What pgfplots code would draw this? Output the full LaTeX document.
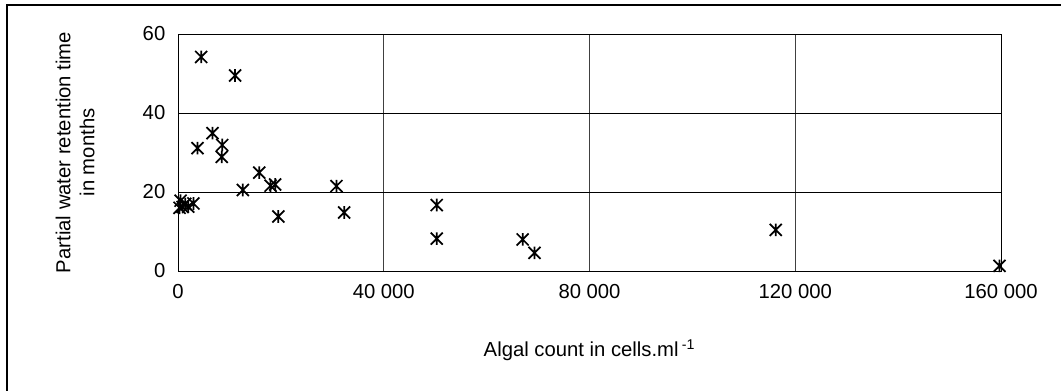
\documentclass[border=0pt]{standalone}
\usepackage{fontspec}
\setmainfont{Liberation Sans}
\usepackage{pgfplots}
\pgfplotsset{compat=1.18}
\pgfdeclareplotmark{xstar}{%
  \pgfpathmoveto{\pgfqpoint{-\pgfplotmarksize}{-\pgfplotmarksize}}%
  \pgfpathlineto{\pgfqpoint{\pgfplotmarksize}{\pgfplotmarksize}}%
  \pgfpathmoveto{\pgfqpoint{-\pgfplotmarksize}{\pgfplotmarksize}}%
  \pgfpathlineto{\pgfqpoint{\pgfplotmarksize}{-\pgfplotmarksize}}%
  \pgfpathmoveto{\pgfqpoint{0pt}{-1.05\pgfplotmarksize}}%
  \pgfpathlineto{\pgfqpoint{0pt}{1.05\pgfplotmarksize}}%
  \pgfusepathqstroke}
\begin{document}
\begin{tikzpicture}
\path[use as bounding box] (0,0) rectangle (795.75pt,-293.25pt);
\draw[line width=1.6pt] (5.25pt,-293.25pt) -- (5.25pt,-3.75pt) -- (795.75pt,-3.75pt);
\begin{axis}[
  at={(133.5pt,-203.25pt)}, anchor=south west,
  scale only axis, width=617.25pt, height=177.75pt,
  xmin=0, xmax=160000, ymin=0, ymax=60,
  scaled x ticks=false,
  xtick={0,40000,80000,120000,160000},
  xticklabels={0,40 000,80 000,120 000,160 000},
  ytick={0,20,40,60},
  major tick length=0pt,
  grid=major,
  major grid style={black, line width=0.6pt},
  x grid style={black!75},
  axis line style={line width=0.6pt},
  clip=false,
  /pgf/number format/assume math mode=true,
  ticklabel style={font=\fontsize{15.2}{18}\selectfont},
  yticklabel style={xshift=-6pt},
  xticklabel style={yshift=-6.75pt},
  label style={font=\fontsize{15.2}{18}\selectfont},
  xlabel={Algal count in cells.ml\,\textsuperscript{-1}},
  xlabel style={at={(axis description cs:0.5,-0.333)}, anchor=center},
  ylabel={Partial water retention time\\in months},
  ylabel style={at={(axis description cs:-0.125,0.5)}, anchor=center, align=center},
]
\addplot[only marks, mark=xstar, mark size=4.5pt, line width=1.3pt, black] coordinates {
  (4500,54.2) (11100,49.5) (6700,34.9) (3800,31.1) (8600,31.9) (8500,28.9)
  (15800,24.9) (12600,20.5) (18000,21.6) (18900,21.9) (19500,13.8)
  (30800,21.5) (32300,14.8) (50300,16.7) (50300,8.2) (67000,8.0) (69300,4.6)
  (116200,10.4) (159700,1.3)
  (500,17.8) (900,16.2) (1400,17.0) (2000,16.3) (3000,17.1) (300,16.0)
};
\end{axis}
\end{tikzpicture}
\end{document}
